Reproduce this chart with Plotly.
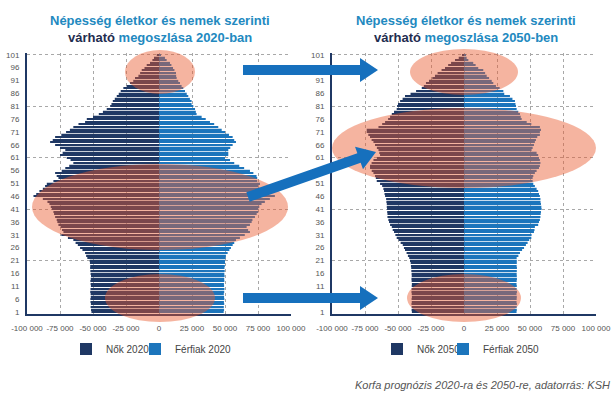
import plotly.graph_objects as go

W, H = 616, 397

ages = list(range(1, 102))
age_ticks = list(range(1, 102, 5))
age_grid = [21, 41, 61, 81, 101]
x_ticks = [-100000, -75000, -50000, -25000, 0, 25000, 50000, 75000, 100000]
x_ticktext = ["-100 000", "-75 000", "-50 000", "-25 000", "0",
              "25 000", "50 000", "75 000", "100 000"]

women_2020 = [
    51200, 51500, 51800, 51600, 51900, 52000, 51700, 51800, 52100, 51900,
    51600, 51800, 52000, 51700, 51500, 51800, 52000, 52200, 52100, 52300,
    52500, 54300, 55200, 56000, 58000, 59800, 61500, 63200, 64900, 69000,
    74000, 72400, 73500, 74500, 76200, 77000, 77500, 78700, 79500, 80000,
    81200, 82000, 83000, 84500, 88000, 95100, 93000, 90600, 88000, 86300,
    85000, 80000, 76200, 77500, 78700, 73700, 71000, 68000, 64900, 67000,
    69900, 75000, 73000, 71000, 75000, 78700, 82500, 80500, 78700, 74000,
    70400, 67500, 64900, 61000, 56000, 54700, 50000, 45600, 42500, 39600,
    37000, 36000, 35000, 33500, 32000, 30500, 29000, 27000, 24500, 22000,
    19500, 18200, 15600, 14300, 13100, 11000, 9300, 6800, 5000, 3800,
    1700]

men_2020 = [
    49000, 49300, 49100, 49400, 49200, 49500, 49300, 49100, 49400, 49600,
    49300, 49200, 49500, 49400, 49700, 49500, 49800, 49600, 49900, 50000,
    50000, 50400, 50700, 52000, 53300, 54500, 55800, 57000, 58300, 61300,
    65000, 68900, 67500, 66400, 68900, 70200, 70800, 72700, 74000, 75200,
    75200, 76000, 77700, 80200, 84000, 87800, 82000, 76400, 76400, 75000,
    76500, 74400, 74400, 73900, 71500, 68900, 64500, 60800, 57000, 53800,
    50000, 52500, 52500, 52500, 54000, 55800, 58300, 57000, 55800, 53000,
    50000, 47500, 44900, 41800, 38600, 35400, 32300, 28500, 27900, 27300,
    26000, 24700, 24700, 23400, 22200, 21000, 19700, 18400, 17100, 15900,
    14600, 13400, 13000, 12900, 11700, 10600, 9400, 8300, 5800, 4500,
    800]

women_2050 = [
    39500, 39700, 39600, 39800, 39600, 39700, 39500, 39600, 39800, 39700,
    39600, 39500, 39700, 39800, 39600, 39700, 39900, 40000, 40200, 40400,
    40900, 41500, 42500, 43500, 44700, 45500, 46400, 48000, 49500, 51000,
    52000, 53000, 54000, 54700, 56000, 56800, 57300, 58000, 58000, 58200,
    58300, 58500, 58500, 58800, 59000, 59800, 60200, 60600, 61100, 62000,
    63600, 66100, 66800, 67400, 68600, 69900, 71200, 71200, 70000, 68600,
    66000, 63600, 64200, 64800, 66000, 67400, 68600, 70000, 71200, 72500,
    73700, 73700, 64800, 62000, 59800, 57500, 56000, 54700, 53000, 51000,
    50700, 50000, 48400, 46500, 44700, 40500, 36300, 32000, 30400, 28800,
    26500, 24000, 22000, 20000, 17000, 14400, 12000, 9800, 6800, 4000,
    1000]

men_2050 = [
    39800, 40000, 39900, 40100, 39800, 39900, 40000, 39800, 40100, 39900,
    40000, 39800, 39900, 40100, 40000, 39900, 40000, 40100, 39900, 40000,
    40000, 39900, 41200, 42400, 44000, 45500, 46900, 48200, 49400, 51000,
    51200, 53000, 53400, 53700, 56200, 56800, 57500, 57900, 58100, 58300,
    58800, 58600, 58300, 58000, 57900, 57500, 56800, 56200, 55000, 53700,
    52500, 52000, 52000, 52500, 53700, 55000, 56800, 57500, 57900, 57500,
    56800, 56200, 55000, 51200, 52000, 53000, 53700, 54500, 55500, 57500,
    57500, 58300, 57500, 51000, 47500, 43700, 43000, 42400, 41100, 39900,
    39400, 39000, 38600, 36700, 34800, 30500, 29800, 27000, 24200, 22200,
    21000, 19000, 17200, 16000, 14600, 10800, 8800, 7000, 3300, 2000,
    800]

NAVY = "#1f3864"
BLUE = "#1c75bc"
TEAL = "#2289bf"
DARK = "#1f2d4f"
ARROW = "#1670bd"
ELLIPSE = "#e9592c"
GRID = "#a8a8a8"
FONT = "Liberation Sans, Arial, sans-serif"


def px(x):
    return x / W


def py(y):
    return 1 - y / H


fig = go.Figure()
fig.add_trace(go.Bar(y=ages, x=[-v for v in women_2020], orientation="h",
                     name="Nők 2020", marker=dict(color=NAVY, line_width=0),
                     xaxis="x", yaxis="y", legend="legend", hoverinfo="skip"))
fig.add_trace(go.Bar(y=ages, x=men_2020, orientation="h",
                     name="Férfiak 2020", marker=dict(color=BLUE, line_width=0),
                     xaxis="x", yaxis="y", legend="legend2", hoverinfo="skip"))
fig.add_trace(go.Bar(y=ages, x=[-v for v in women_2050], orientation="h",
                     name="Nők 2050", marker=dict(color=NAVY, line_width=0),
                     xaxis="x2", yaxis="y2", legend="legend3", hoverinfo="skip"))
fig.add_trace(go.Bar(y=ages, x=men_2050, orientation="h",
                     name="Férfiak 2050", marker=dict(color=BLUE, line_width=0),
                     xaxis="x2", yaxis="y2", legend="legend4", hoverinfo="skip"))

ydom = [py(314), py(53)]
tickfont = dict(family=FONT, size=8, color="#555555")


def xaxis_cfg(dom, anchor):
    return dict(domain=dom, anchor=anchor, range=[-100000, 100000],
                tickmode="array", tickvals=x_ticks, ticktext=x_ticktext,
                tickangle=0, automargin=False,
                showgrid=True, gridcolor=GRID, griddash="3px,3px", gridwidth=1,
                zeroline=False, showline=True, linecolor=NAVY, linewidth=2,
                tickfont=tickfont, ticks="", ticklabelstandoff=5, fixedrange=True)


def yaxis_cfg(anchor):
    return dict(domain=ydom, anchor=anchor, range=[0.2, 101.7],
                tickmode="array", tickvals=age_ticks,
                ticktext=[str(a) for a in age_ticks], automargin=False,
                showgrid=False, zeroline=False, showline=True,
                linecolor=NAVY, linewidth=2, tickfont=tickfont, ticks="",
                ticklabelstandoff=4,
                minor=dict(tickmode="array", tickvals=age_grid, showgrid=True,
                           gridcolor=GRID, griddash="3px,3px", gridwidth=1,
                           ticks=""),
                fixedrange=True)


shapes = []
# highlight ellipses (pixel centre, radii)
for cx, cy, rx, ry in [(160, 72, 35, 22), (160, 207, 128, 43), (160, 298, 55, 24),
                       (464, 72, 54, 23), (464, 148, 132, 40), (464, 298, 57, 24)]:
    shapes.append(dict(type="circle", xref="paper", yref="paper",
                       x0=px(cx - rx), x1=px(cx + rx), y0=py(cy + ry), y1=py(cy - ry),
                       fillcolor=ELLIPSE, opacity=0.45, line=dict(width=0),
                       layer="above"))


def arrow_path(tail, tip, sw=5, hw=12, hl=18):
    import math
    (x0, y0), (x1, y1) = tail, tip
    dx, dy = x1 - x0, y1 - y0
    L = math.hypot(dx, dy)
    ux, uy = dx / L, dy / L
    nx, ny = -uy, ux
    bx, by = x1 - ux * hl, y1 - uy * hl
    pts = [(x0 + nx * sw, y0 + ny * sw), (bx + nx * sw, by + ny * sw),
           (bx + nx * hw, by + ny * hw), (x1, y1),
           (bx - nx * hw, by - ny * hw), (bx - nx * sw, by - ny * sw),
           (x0 - nx * sw, y0 - ny * sw)]
    return "M " + " L ".join(f"{px(a):.5f},{py(b):.5f}" for a, b in pts) + " Z"


for tail, tip in [((243, 70), (378, 70)), ((248, 197), (376, 152)),
                  ((243, 298), (378, 298))]:
    shapes.append(dict(type="path", xref="paper", yref="paper",
                       path=arrow_path(tail, tip), fillcolor=ARROW,
                       line=dict(width=0), layer="above"))

title_font = dict(family=FONT, size=13, color=TEAL)
annotations = []
for cx, year, suffix in [(160, "2020", "ban"), (466, "2050", "ben")]:
    annotations.append(dict(x=px(cx), y=py(20), xref="paper", yref="paper",
                            text="<b>Népesség életkor és nemek szerinti</b>",
                            showarrow=False, font=title_font,
                            xanchor="center", yanchor="middle"))
    annotations.append(dict(x=px(cx), y=py(37), xref="paper", yref="paper",
                            text=f"<b><span style='color:{DARK}'>várható</span> "
                                 f"megoszlása {year}-{suffix}</b>",
                            showarrow=False, font=title_font,
                            xanchor="center", yanchor="middle"))
annotations.append(dict(x=px(612), y=py(385), xref="paper", yref="paper",
                        text="<i>Korfa prognózis 2020-ra és 2050-re, adatorrás: KSH</i>",
                        showarrow=False,
                        font=dict(family=FONT, size=11, color="#555555"),
                        xanchor="right", yanchor="middle"))

legend_font = dict(family=FONT, size=10, color="#444444")


def legend_cfg(sq_center):
    return dict(orientation="h", x=px(sq_center - 21), y=py(349), xanchor="left",
                yanchor="middle", font=legend_font, bgcolor="rgba(0,0,0,0)",
                itemwidth=30)


fig.update_layout(
    width=W, height=H,
    margin=dict(l=0, r=0, t=0, b=0, autoexpand=False),
    paper_bgcolor="white", plot_bgcolor="white",
    barmode="relative", bargap=0.5,
    xaxis=xaxis_cfg([px(27), px(291)], "y"),
    yaxis=yaxis_cfg("x"),
    xaxis2=xaxis_cfg([px(332), px(596)], "y2"),
    yaxis2=yaxis_cfg("x2"),
    showlegend=True,
    legend=legend_cfg(87),
    legend2=legend_cfg(156),
    legend3=legend_cfg(398),
    legend4=legend_cfg(464),
    shapes=shapes,
    annotations=annotations,
)

fig.write_html("out.html",
               config={"displayModeBar": False},
               post_script="document.body.style.margin='0';"
                           "document.body.style.overflow='hidden';")
